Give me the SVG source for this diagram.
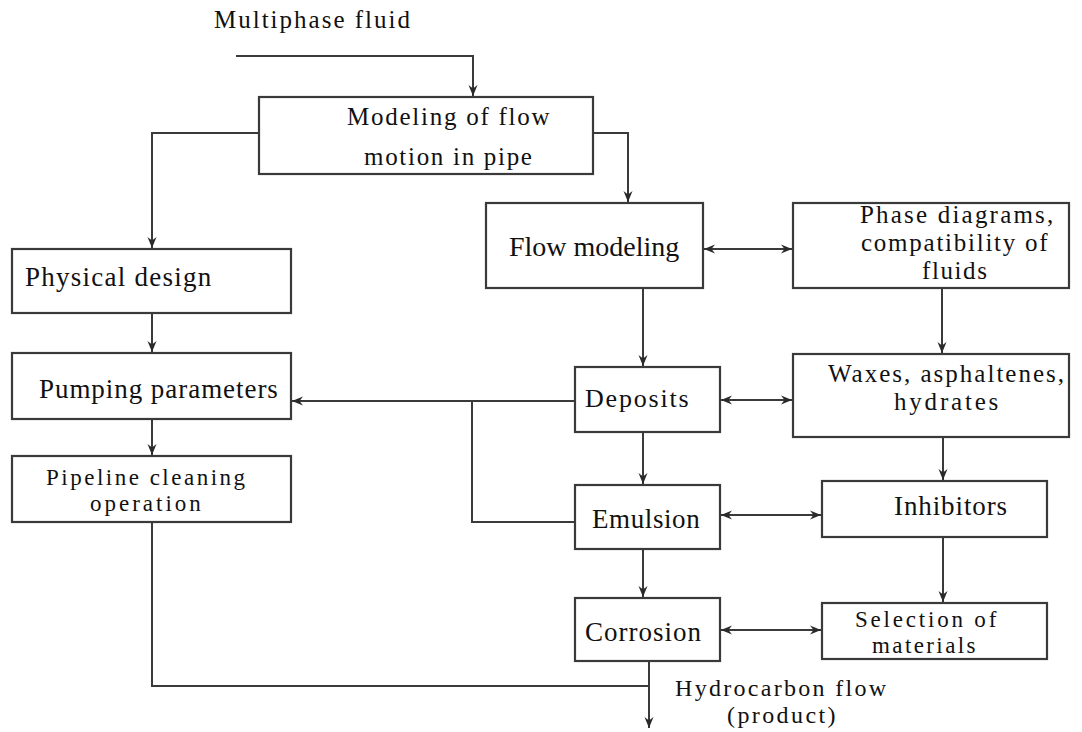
<svg xmlns="http://www.w3.org/2000/svg" width="1082" height="732" viewBox="0 0 1082 732">
<style>
  .box{fill:#fff;stroke:#3a3a3a;stroke-width:2.2}
  .ln{fill:none;stroke:#3a3a3a;stroke-width:2}
  text{font-family:"Liberation Serif","Times New Roman",serif;fill:#111}
</style>
<defs>
  <marker id="ah" markerUnits="userSpaceOnUse" markerWidth="12" markerHeight="10" refX="11" refY="5" orient="auto-start-reverse">
    <path d="M0,0.5 L11,5 L0,9.5 L3.5,5 z" fill="#2a2a2a"/>
  </marker>
</defs>
<rect width="1082" height="732" fill="#fff"/>
<text x="214" y="28" font-size="25" letter-spacing="2">Multiphase fluid</text>

<g id="connectors">
  <path class="ln" d="M236,56 H473 V96" marker-end="url(#ah)"/>
  <path class="ln" d="M259,133 H152 V248" marker-end="url(#ah)"/>
  <path class="ln" d="M593,133 H628 V202" marker-end="url(#ah)"/>
  <path class="ln" d="M152,313 V352" marker-end="url(#ah)"/>
  <path class="ln" d="M152,419 V455" marker-end="url(#ah)"/>
  <path class="ln" d="M575,401 H292" marker-end="url(#ah)"/>
  <path class="ln" d="M472,401 V522 H575"/>
  <path class="ln" d="M152,522 V686 H649"/>
  <path class="ln" d="M649,661 V728" marker-end="url(#ah)"/>
  <path class="ln" d="M704,249 H792" marker-start="url(#ah)" marker-end="url(#ah)"/>
  <path class="ln" d="M643,288 V366" marker-end="url(#ah)"/>
  <path class="ln" d="M942,288 V353" marker-end="url(#ah)"/>
  <path class="ln" d="M721,400 H792" marker-start="url(#ah)" marker-end="url(#ah)"/>
  <path class="ln" d="M643,432 V484" marker-end="url(#ah)"/>
  <path class="ln" d="M943,437 V480" marker-end="url(#ah)"/>
  <path class="ln" d="M721,515 H821" marker-start="url(#ah)" marker-end="url(#ah)"/>
  <path class="ln" d="M643,549 V597" marker-end="url(#ah)"/>
  <path class="ln" d="M943,537 V602" marker-end="url(#ah)"/>
  <path class="ln" d="M721,630 H821" marker-start="url(#ah)" marker-end="url(#ah)"/>
</g>

<g id="modeling">
  <rect class="box" x="259" y="97" width="334" height="77"/>
  <text x="347" y="125" font-size="25" letter-spacing="1.75">Modeling of flow</text>
  <text x="364" y="165" font-size="25" letter-spacing="1.7">motion in pipe</text>
</g>
<g id="physical">
  <rect class="box" x="12" y="249" width="279" height="64"/>
  <text x="25" y="286" font-size="27" letter-spacing="1.25">Physical design</text>
</g>
<g id="pumping">
  <rect class="box" x="12" y="353" width="279" height="66"/>
  <text x="39" y="398" font-size="27" letter-spacing="0.95">Pumping parameters</text>
</g>
<g id="pipeline">
  <rect class="box" x="12" y="456" width="279" height="66"/>
  <text x="46" y="485" font-size="23" letter-spacing="2.5">Pipeline cleaning</text>
  <text x="90" y="511" font-size="23" letter-spacing="3">operation</text>
</g>
<g id="flow">
  <rect class="box" x="486" y="203" width="217" height="85"/>
  <text x="509" y="256" font-size="28">Flow modeling</text>
</g>
<g id="phase">
  <rect class="box" x="793" y="203" width="276" height="85"/>
  <text x="860" y="223" font-size="25" letter-spacing="2.2">Phase diagrams,</text>
  <text x="861" y="251" font-size="25" letter-spacing="1.75">compatibility of</text>
  <text x="922" y="279" font-size="25" letter-spacing="1.6">fluids</text>
</g>
<g id="deposits">
  <rect class="box" x="575" y="367" width="145" height="65"/>
  <text x="585" y="407" font-size="26" letter-spacing="1.8">Deposits</text>
</g>
<g id="waxes">
  <rect class="box" x="793" y="354" width="276" height="83"/>
  <text x="828" y="382" font-size="25" letter-spacing="2">Waxes, asphaltenes,</text>
  <text x="894" y="410" font-size="25" letter-spacing="2.8">hydrates</text>
</g>
<g id="emulsion">
  <rect class="box" x="575" y="485" width="145" height="64"/>
  <text x="592" y="528" font-size="27" letter-spacing="0.6">Emulsion</text>
</g>
<g id="inhibitors">
  <rect class="box" x="822" y="481" width="225" height="56"/>
  <text x="894" y="515" font-size="27" letter-spacing="0.9">Inhibitors</text>
</g>
<g id="corrosion">
  <rect class="box" x="575" y="598" width="145" height="63"/>
  <text x="585" y="641" font-size="27" letter-spacing="1">Corrosion</text>
</g>
<g id="selection">
  <rect class="box" x="822" y="603" width="225" height="56"/>
  <text x="855" y="627" font-size="23" letter-spacing="2.8">Selection of</text>
  <text x="872" y="653" font-size="23" letter-spacing="2.4">materials</text>
</g>
<g id="output">
  <text x="675" y="696" font-size="24" letter-spacing="2.3">Hydrocarbon flow</text>
  <text x="727" y="723" font-size="24" letter-spacing="2.4">(product)</text>
</g>
</svg>
